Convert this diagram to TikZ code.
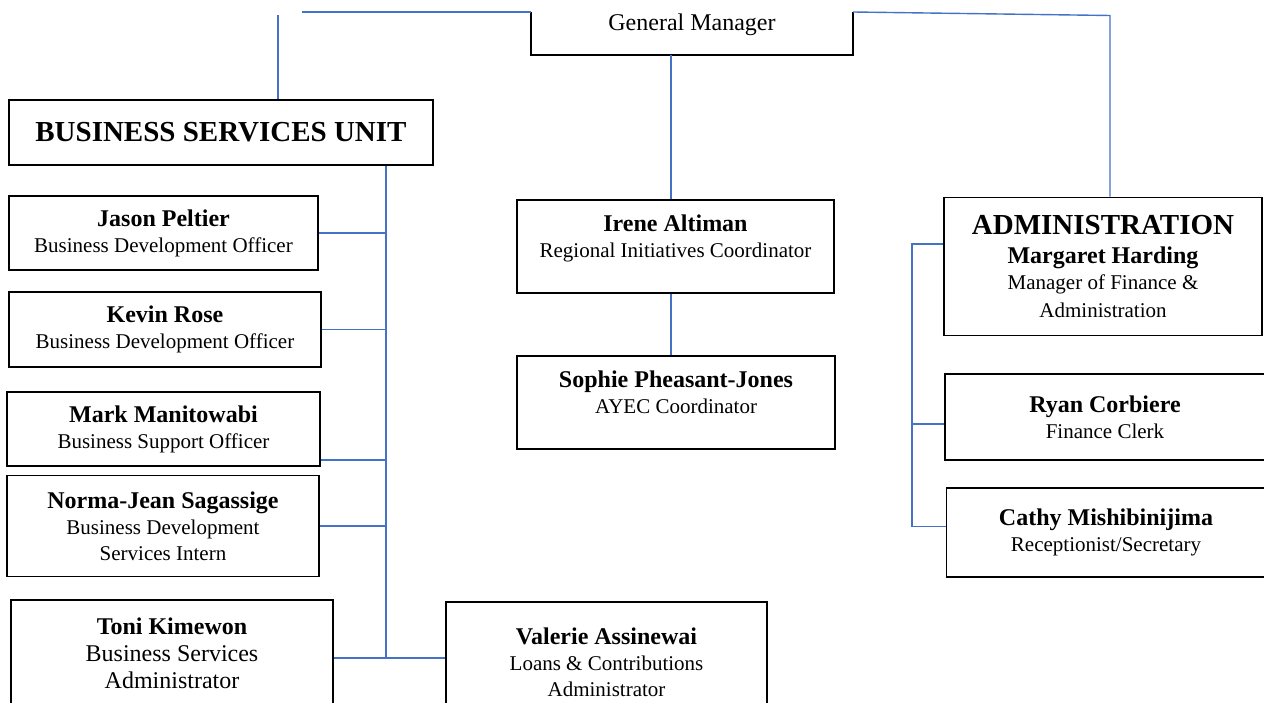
\documentclass[tikz,border=0pt]{standalone}
\usepackage{fontspec}
\setmainfont{Liberation Serif}
\usepackage{xcolor}
\usepackage{tikz}
\definecolor{linkblue}{RGB}{68,114,196}
\newcommand{\pname}[1]{{\fontsize{24}{27}\selectfont\bfseries #1}}

\begin{document}
\begin{tikzpicture}[
            x=1pt,y=-1pt,
            box/.style={draw,line width=1.6pt,align=center,inner sep=0pt,
                font=\fontsize{21}{26}\selectfont},
            head/.style={box,font=\fontsize{29}{31}\selectfont\bfseries},
            link/.style={draw=linkblue,line width=1.4pt}
        ]
            \useasboundingbox (0,0) rectangle (1264,703);
            \clip (0,0) rectangle (1264,703);

            % Top
            \node[align=center,inner sep=0pt,minimum width=322pt,minimum height=60pt,
                font=\fontsize{24}{26}\selectfont] (GM) at (692,25) {General Manager};
            \draw[line width=1.6pt] ([yshift=-17pt]GM.north west) -- (GM.south west)
                -- (GM.south east) -- ([yshift=-17pt]GM.north east);

            % Business services unit
            \node[head,minimum width=424pt,minimum height=65pt] (BSU) at (221,132.5) {BUSINESS SERVICES UNIT};
            \node[box,minimum width=309pt,minimum height=74pt] (Jason) at (163.5,233)
                {\pname{Jason Peltier}\\Business Development Officer};
            \node[box,minimum width=312pt,minimum height=75pt] (Kevin) at (165,329.5)
                {\pname{Kevin Rose}\\Business Development Officer};
            \node[box,minimum width=313pt,minimum height=74pt] (Mark) at (163.5,429)
                {\pname{Mark Manitowabi}\\Business Support Officer};
            \node[box,minimum width=312pt,minimum height=101pt] (Norma) at (163,526)
                {\pname{Norma-Jean Sagassige}\\Business Development\\Services Intern};
            \node[box,minimum width=322pt,minimum height=106pt,
                font=\fontsize{24}{27}\selectfont] (Toni) at (172,653)
                {\pname{Toni Kimewon}\\Business Services\\Administrator};
            \node[box,minimum width=321pt,minimum height=120pt] (Valerie) at (606.5,662)
                {\pname{Valerie Assinewai}\\Loans \& Contributions\\Administrator};

            % Regional initiatives
            \node[box,minimum width=317pt,minimum height=93pt] (Irene) at (675.5,246.5)
                {\pname{Irene Altiman}\\Regional Initiatives Coordinator\\[-6pt]};
            \node[box,minimum width=318pt,minimum height=93pt] (Sophie) at (676,402.5)
                {\pname{Sophie Pheasant-Jones}\\AYEC Coordinator\\[-6pt]};

            % Administration
            \node[box,minimum width=318pt,minimum height=138pt] (Admin) at (1103,266.5)
                {{\fontsize{29}{31}\selectfont\bfseries ADMINISTRATION}\\[3pt]\pname{Margaret Harding}\\Manager of Finance \&\\[2pt]Administration};
            \node[box,minimum width=320pt,minimum height=86pt] (Ryan) at (1105,417)
                {\pname{Ryan Corbiere}\\Finance Clerk};
            \node[box,minimum width=319pt,minimum height=89pt] (Cathy) at (1106,532.5)
                {\pname{Cathy Mishibinijima}\\Receptionist/Secretary};

            % Connectors
            \coordinate (lend) at (302,12);
            \coordinate (bsutop) at (278,15);
            \coordinate (rcorner) at (1110,15.5);
            \coordinate (cdrop) at (671,293);
            \coordinate (trunk) at (386,658);
            \coordinate (abranch) at (912,244);

            \draw[link] (lend) -- (lend -| GM.west);
            \draw[link] (bsutop) -- (bsutop |- BSU.north);
            \draw[link] (GM.east |- lend) -- (rcorner) -- (rcorner |- Admin.north);
            \draw[link] (cdrop |- GM.south) -- (cdrop |- Irene.north);
            \draw[link] (cdrop |- Irene.south) -- (cdrop |- Sophie.north);

            \draw[link] (trunk |- BSU.south) -- (trunk);
            \foreach \P in {Jason,Kevin,Norma} {
                \draw[link] (\P.east) -- (\P.east -| trunk);
            }
            \draw[link] ([yshift=7pt]Mark.south east) -- ([yshift=7pt]Mark.south east -| trunk);
            \draw[link] (Toni.east |- trunk) -- (Valerie.west |- trunk);

            \draw[link] (abranch -| Admin.west) -- (abranch)
                -- ([yshift=6pt]Cathy.west -| abranch) -- ([yshift=6pt]Cathy.west);
            \draw[link] ([yshift=-7pt]Ryan.west -| abranch) -- ([yshift=-7pt]Ryan.west);
        \end{tikzpicture}
\end{document}
